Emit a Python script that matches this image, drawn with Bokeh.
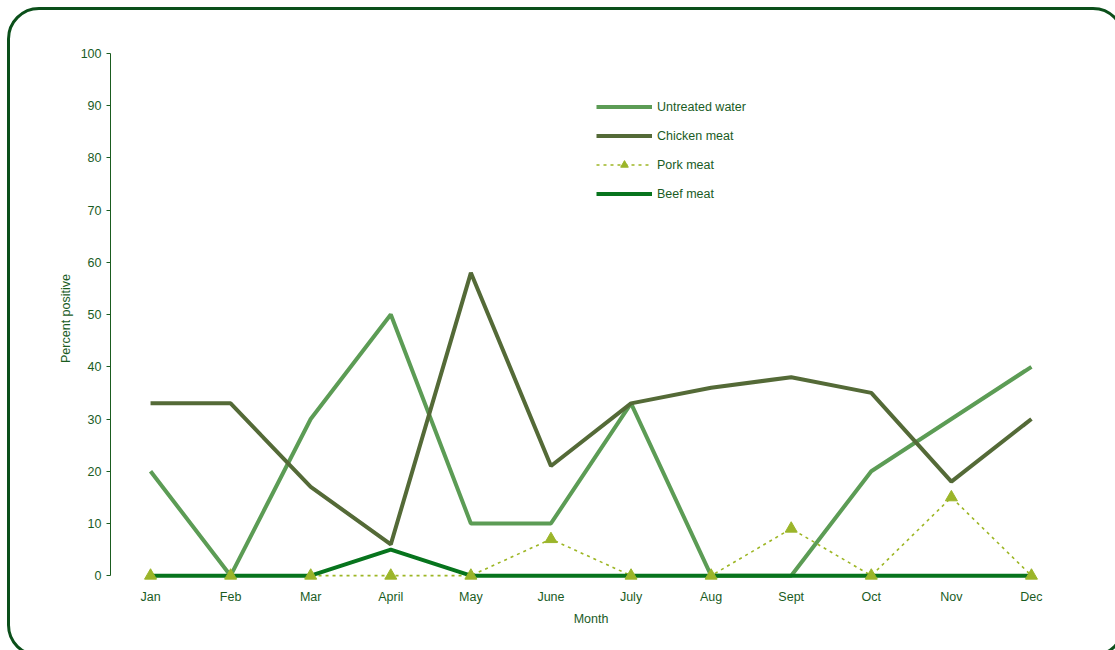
from bokeh.plotting import figure
from bokeh.models import Legend, LegendItem, LinearAxis, CategoricalAxis, FixedTicker
from bokeh.embed import file_html
from bokeh.resources import INLINE

# Monthly percent of samples testing positive, by source
months = ["Jan", "Feb", "Mar", "April", "May", "June", "July", "Aug", "Sept", "Oct", "Nov", "Dec"]
untreated_water = [20, 0, 30, 50, 10, 10, 33, 0, 0, 20, 30, 40]
chicken_meat = [33, 33, 17, 6, 58, 21, 33, 36, 38, 35, 18, 30]
pork_meat = [0, 0, 0, 0, 0, 7, 0, 0, 9, 0, 15, 0]
beef_meat = [0, 0, 0, 5, 0, 0, 0, 0, 0, 0, 0, 0]
y_ticks = [0, 10, 20, 30, 40, 50, 60, 70, 80, 90, 100]

TEXT = "#1a5c1f"
FONT = "Liberation Sans"

p = figure(
    x_range=months, y_range=(-1.5, 100),
    width=1118, height=650,
    output_backend="svg", toolbar_location=None,
    min_border_left=100, min_border_right=57,
    min_border_top=43, min_border_bottom=77,
    x_axis_location=None, y_axis_location=None,
)
# Rounded chart-area outline; fixed so the overhang at right/bottom adds no scrolling
p.styles = {
    "position": "fixed", "left": "7px", "top": "7px",
    "border": "3px solid #0b4f1a", "border-radius": "32px",
    "background": "white",
}
p.outline_line_color = None
p.xgrid.grid_line_color = None
p.ygrid.grid_line_color = None
p.background_fill_color = None
p.border_fill_color = None

# Value axis
yaxis = LinearAxis(bounds=(0, 100), ticker=FixedTicker(ticks=y_ticks), axis_label="Percent positive")
yaxis.axis_line_color = TEXT
yaxis.major_tick_line_color = TEXT
yaxis.major_tick_out = 4
yaxis.major_tick_in = 0
yaxis.minor_tick_line_color = None
yaxis.major_label_standoff = 5
yaxis.major_label_text_font = FONT
yaxis.major_label_text_font_size = "12.5px"
yaxis.major_label_text_color = TEXT
yaxis.axis_label_text_font = FONT
yaxis.axis_label_text_font_size = "12.5px"
yaxis.axis_label_text_font_style = "normal"
yaxis.axis_label_text_color = TEXT
yaxis.axis_label_standoff = 5
p.add_layout(yaxis, "left")

# Month axis
xaxis = CategoricalAxis(axis_label="Month")
xaxis.axis_line_color = None
xaxis.major_tick_line_color = None
xaxis.minor_tick_line_color = None
xaxis.major_label_standoff = 0
xaxis.major_label_text_font = FONT
xaxis.major_label_text_font_size = "12.5px"
xaxis.major_label_text_color = TEXT
xaxis.axis_label_text_font = FONT
xaxis.axis_label_text_font_size = "12.5px"
xaxis.axis_label_text_font_style = "normal"
xaxis.axis_label_text_color = TEXT
xaxis.axis_label_standoff = 5
p.add_layout(xaxis, "below")

r_water = p.line(months, untreated_water, line_color="#5c9c55", line_width=4)
r_chicken = p.line(months, chicken_meat, line_color="#546a37", line_width=4)
r_pork_line = p.line(months, pork_meat, line_color="#9db624", line_width=1.6, line_dash="3 4")
r_beef = p.line(months, beef_meat, line_color="#07741d", line_width=4)
r_pork_pts = p.scatter(months, pork_meat, marker="triangle", size=12,
                       fill_color="#9bb52a", line_color="#9bb52a")

legend = Legend(
    items=[
        LegendItem(label="Untreated water", renderers=[r_water]),
        LegendItem(label="Chicken meat", renderers=[r_chicken]),
        LegendItem(label="Pork meat", renderers=[r_pork_line, r_pork_pts]),
        LegendItem(label="Beef meat", renderers=[r_beef]),
    ],
    location=(486, 380),
    glyph_width=56, glyph_height=19, label_height=19,
    spacing=10, padding=0, margin=0, label_standoff=5,
    border_line_color=None, background_fill_alpha=0,
    label_text_font=FONT, label_text_font_size="12.5px", label_text_color=TEXT,
)
p.add_layout(legend, "center")

open("out.html", "w").write(file_html(p, INLINE))
